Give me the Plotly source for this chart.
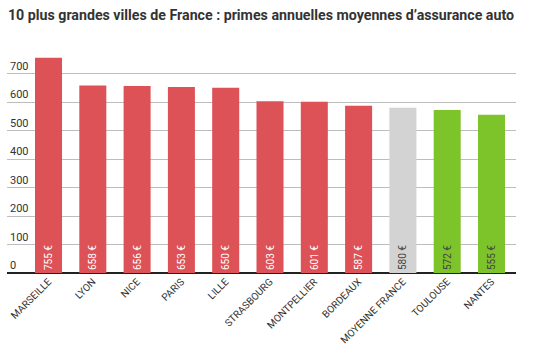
import plotly.graph_objects as go

cities = ["MARSEILLE", "LYON", "NICE", "PARIS", "LILLE", "STRASBOURG",
          "MONTPELLIER", "BORDEAUX", "MOYENNE FRANCE", "TOULOUSE", "NANTES"]
primes = [755, 658, 656, 653, 650, 603, 601, 587, 580, 572, 555]
bar_colors = ["#DC5257"] * 8 + ["#D3D3D3"] + ["#7DC42A"] * 2
label_colors = ["#FFFFFF"] * 8 + ["#444444"] * 3
y_ticks = [0, 100, 200, 300, 400, 500, 600, 700]

fig = go.Figure(
    go.Bar(
        x=list(range(len(cities))),
        y=primes,
        marker=dict(color=bar_colors, line=dict(width=0)),
        text=[f"{v} €" for v in primes],
        textposition="inside",
        insidetextanchor="start",
        textangle=-90,
        textfont=dict(family="Roboto", size=10, color=label_colors),
        cliponaxis=False,
        hoverinfo="skip",
    )
)

fig.update_layout(
    width=533,
    height=345,
    margin=dict(l=7, r=17, t=45, b=72),
    paper_bgcolor="white",
    plot_bgcolor="white",
    bargap=0.39,
    showlegend=False,
    font=dict(family="Roboto", color="#333333"),
    title=dict(
        text="<b>10 plus grandes villes de France : primes annuelles moyennes d’assurance auto</b>",
        x=0.015, xanchor="left", y=0.955, yanchor="middle",
        font=dict(family="Roboto", size=14.2, color="#333333"),
    ),
    uniformtext=dict(minsize=8, mode="show"),
)

fig.update_xaxes(
    range=[-0.937, 10.553],
    tickmode="array",
    tickvals=list(range(len(cities))),
    ticktext=cities,
    tickangle=-45,
    tickfont=dict(family="Roboto", size=10, color="#333333"),
    showgrid=False,
    showline=False,
    ticks="",
    zeroline=False,
    automargin=False,
)

fig.update_yaxes(
    range=[0, 800],
    tickmode="array",
    tickvals=y_ticks,
    ticktext=[str(t) for t in y_ticks],
    ticklabelposition="inside top",
    tickfont=dict(family="Roboto", size=11, color="#333333"),
    showgrid=True,
    gridcolor="#BDBDBD",
    gridwidth=1,
    zeroline=True,
    zerolinecolor="#222222",
    zerolinewidth=2,
    showline=False,
    automargin=False,
)

fig.write_html("out.html")
